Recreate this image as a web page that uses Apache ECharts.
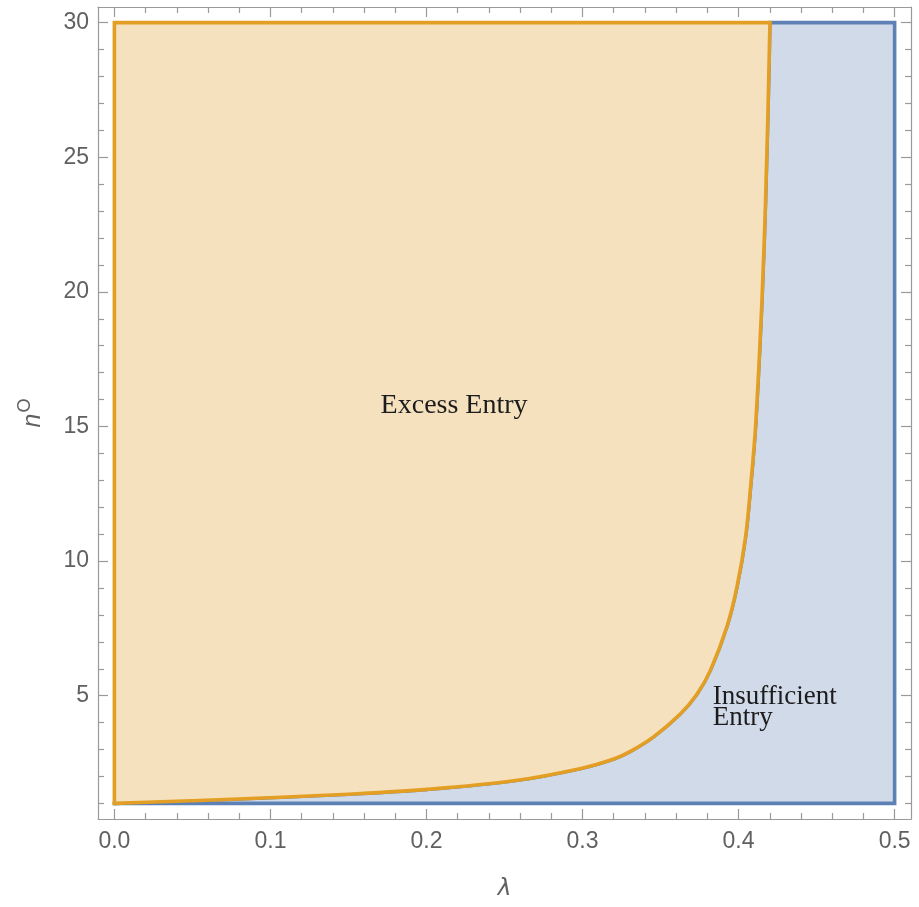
<!DOCTYPE html>
<html>
<head>
<meta charset="utf-8">
<script src="https://cdn.jsdelivr.net/npm/echarts@6/dist/echarts.min.js"></script>
<style>
html,body{margin:0;padding:0;background:#fff;}
#chart{width:919px;height:907px;}
</style>
</head>
<body>
<div id="chart"></div>
<script>
// ---- data ----
const lambdaRange = [0, 0.5];
const nRange = [1, 30];
// boundary between Excess and Insufficient entry
const curveLambda = [0, 0.05, 0.107, 0.15, 0.2005, 0.256, 0.299, 0.3205, 0.3307, 0.3455, 0.3628, 0.3733, 0.382, 0.3927, 0.399, 0.4045, 0.4077, 0.411, 0.415, 0.4173, 0.419, 0.4201];
const curveN      = [1, 1.1, 1.23, 1.34, 1.52, 1.84, 2.3, 2.66, 2.93, 3.47, 4.33, 5.05, 5.95, 7.6, 9.05, 10.9, 12.75, 15.1, 19.7, 23.4, 27.1, 30];
const xMajorTicks = [0, 0.1, 0.2, 0.3, 0.4, 0.5];
const xMinorTicks = [0.02, 0.04, 0.06, 0.08, 0.12, 0.14, 0.16, 0.18, 0.22, 0.24, 0.26, 0.28, 0.32, 0.34, 0.36, 0.38, 0.42, 0.44, 0.46, 0.48];
const yMajorTicks = [5, 10, 15, 20, 25, 30];
const yMinorTicks = [1, 2, 3, 4, 6, 7, 8, 9, 11, 12, 13, 14, 16, 17, 18, 19, 21, 22, 23, 24, 26, 27, 28, 29];
const regionLabels = ['Excess Entry', 'Insufficient\nEntry'];
const regionLabelPos = [[0.2177, 15.79], [0.3835, 4.57]];

// ---- styles ----
const BLUE = '#5E81B5', BLUE_FILL = '#D0DAE8';
const ORANGE = '#E39E24', ORANGE_FILL = '#F5E1BE';
const AXIS = '#9a9a9a', LABEL = '#606060';
const xMin = -0.0105, xMax = 0.5105, yMin = 0.42, yMax = 30.58;
const LW = 3.6;

const curvePts = curveLambda.map((l, i) => [l, curveN[i]]);
const lastCurve = curvePts[curvePts.length - 1];
const blueCorners = [[lambdaRange[1], nRange[1]], [lambdaRange[1], nRange[0]]];
const blueEdges = [lastCurve, [lambdaRange[1], nRange[1]], [lambdaRange[1], nRange[0]], [lambdaRange[0], nRange[0]]];
const orangeCorners = [[lambdaRange[0], nRange[1]]];
const orangeEdges = [lastCurve, [lambdaRange[0], nRange[1]], [lambdaRange[0], nRange[0]]];

// smooth path through pixel points (chord-length scaled Catmull-Rom tangents)
function smoothPath(P) {
  const n = P.length;
  const d = [];
  for (let i = 0; i < n - 1; i++) d.push(Math.hypot(P[i + 1][0] - P[i][0], P[i + 1][1] - P[i][1]));
  const T = P.map((p, i) => {
    let a, b, len;
    if (i === 0) { a = P[0]; b = P[1]; len = d[0]; }
    else if (i === n - 1) { a = P[n - 2]; b = P[n - 1]; len = d[n - 2]; }
    else { a = P[i - 1]; b = P[i + 1]; len = d[i - 1] + d[i]; }
    return [(b[0] - a[0]) / len, (b[1] - a[1]) / len];
  });
  let s = 'M' + P[0][0] + ' ' + P[0][1];
  for (let i = 0; i < n - 1; i++) {
    const k = d[i] / 3;
    const c1 = [P[i][0] + T[i][0] * k, P[i][1] + T[i][1] * k];
    const c2 = [P[i + 1][0] - T[i + 1][0] * k, P[i + 1][1] - T[i + 1][1] * k];
    s += ' C' + c1[0] + ' ' + c1[1] + ' ' + c2[0] + ' ' + c2[1] + ' ' + P[i + 1][0] + ' ' + P[i + 1][1];
  }
  return s;
}

function xAxisCfg(pos, ticks, len, withLabel, withLine) {
  const a = {
    type: 'value', position: pos, min: xMin, max: xMax, splitLine: {show: false},
    axisLine: {show: withLine, onZero: false, lineStyle: {color: AXIS, width: 1.2}},
    axisTick: {show: true, inside: true, length: len, customValues: ticks, lineStyle: {color: AXIS, width: 1.2}},
    axisLabel: withLabel ? {show: true, customValues: ticks, formatter: v => v.toFixed(1), fontSize: 23, color: LABEL, margin: 11, fontFamily: 'Liberation Sans, Arial, sans-serif'} : {show: false}
  };
  if (withLabel) {
    a.name = 'λ'; a.nameLocation = 'middle'; a.nameGap = 59;
    a.nameTextStyle = {fontSize: 23, fontStyle: 'italic', color: LABEL, fontFamily: 'DejaVu Sans, sans-serif'};
  }
  return a;
}
function yAxisCfg(pos, ticks, len, withLabel, withLine) {
  const a = {
    type: 'value', position: pos, min: yMin, max: yMax, splitLine: {show: false},
    axisLine: {show: withLine, onZero: false, lineStyle: {color: AXIS, width: 1.2}},
    axisTick: {show: true, inside: true, length: len, customValues: ticks, lineStyle: {color: AXIS, width: 1.2}},
    axisLabel: withLabel ? {show: true, customValues: ticks, fontSize: 23, color: LABEL, margin: 9, fontFamily: 'Liberation Sans, Arial, sans-serif'} : {show: false}
  };
  if (withLabel) {
    a.name = '{n|n}{o|O}'; a.nameLocation = 'middle'; a.nameGap = 52;
    a.nameTextStyle = {
      color: LABEL,
      rich: {
        n: {fontSize: 25, fontStyle: 'italic', color: LABEL, fontFamily: 'Liberation Sans, Arial, sans-serif', verticalAlign: 'bottom', lineHeight: 30},
        o: {fontSize: 18, color: LABEL, fontFamily: 'Liberation Sans, Arial, sans-serif', verticalAlign: 'top', lineHeight: 30, padding: [0, 0, 14, 1]}
      }
    };
  }
  return a;
}

function regionRender(corners, edges, fill, stroke) {
  return function (params, api) {
    const c = p => api.coord(p);
    const curvePx = curvePts.map(c);
    const curveD = smoothPath(curvePx);
    let fillD = curveD;
    corners.map(c).forEach(p => { fillD += ' L' + p[0] + ' ' + p[1]; });
    fillD += ' Z';
    return {
      type: 'group',
      children: [
        {type: 'path', shape: {pathData: fillD}, style: {fill: fill, stroke: null}},
        {type: 'polyline', shape: {points: edges.map(c)}, style: {fill: null, stroke: stroke, lineWidth: LW, lineJoin: 'miter', lineCap: 'square'}},
        {type: 'path', shape: {pathData: curveD}, style: {fill: null, stroke: stroke, lineWidth: LW, lineCap: 'butt'}}
      ]
    };
  };
}

const option = {
  animation: false,
  backgroundColor: '#fff',
  grid: {left: 98, right: 8, top: 7, bottom: 88, containLabel: false},
  xAxis: [
    xAxisCfg('bottom', xMajorTicks, 10, true, true),
    xAxisCfg('bottom', xMinorTicks, 6, false, false),
    xAxisCfg('top', xMajorTicks, 10, false, true),
    xAxisCfg('top', xMinorTicks, 6, false, false)
  ],
  yAxis: [
    yAxisCfg('left', yMajorTicks, 10, true, true),
    yAxisCfg('left', yMinorTicks, 6, false, false),
    yAxisCfg('right', yMajorTicks, 10, false, true),
    yAxisCfg('right', yMinorTicks, 6, false, false)
  ],
  series: [
    {type: 'custom', xAxisIndex: 0, yAxisIndex: 0, data: [0], clip: false, silent: true,
     renderItem: regionRender(blueCorners, blueEdges, BLUE_FILL, BLUE), z: 2},
    {type: 'custom', xAxisIndex: 0, yAxisIndex: 0, data: [0], clip: false, silent: true,
     renderItem: regionRender(orangeCorners, orangeEdges, ORANGE_FILL, ORANGE), z: 3},
    {type: 'custom', xAxisIndex: 0, yAxisIndex: 0, data: regionLabels.map((t, i) => [regionLabelPos[i][0], regionLabelPos[i][1]]),
     clip: false, silent: true, z: 4,
     renderItem: function (params, api) {
       const i = params.dataIndex;
       const p = api.coord([api.value(0), api.value(1)]);
       return {
         type: 'text', x: p[0], y: p[1],
         style: {
           text: regionLabels[i],
           fontSize: i === 0 ? 28 : 27, fontFamily: 'Liberation Serif, Times New Roman, serif',
           fill: '#1c1c1c',
           align: i === 0 ? 'center' : 'left',
           verticalAlign: 'middle',
           lineHeight: 21
         }
       };
     }}
  ]
};

const chart = echarts.init(document.getElementById('chart'), null, {renderer: 'canvas'});
chart.setOption(option);
</script>
</body>
</html>
